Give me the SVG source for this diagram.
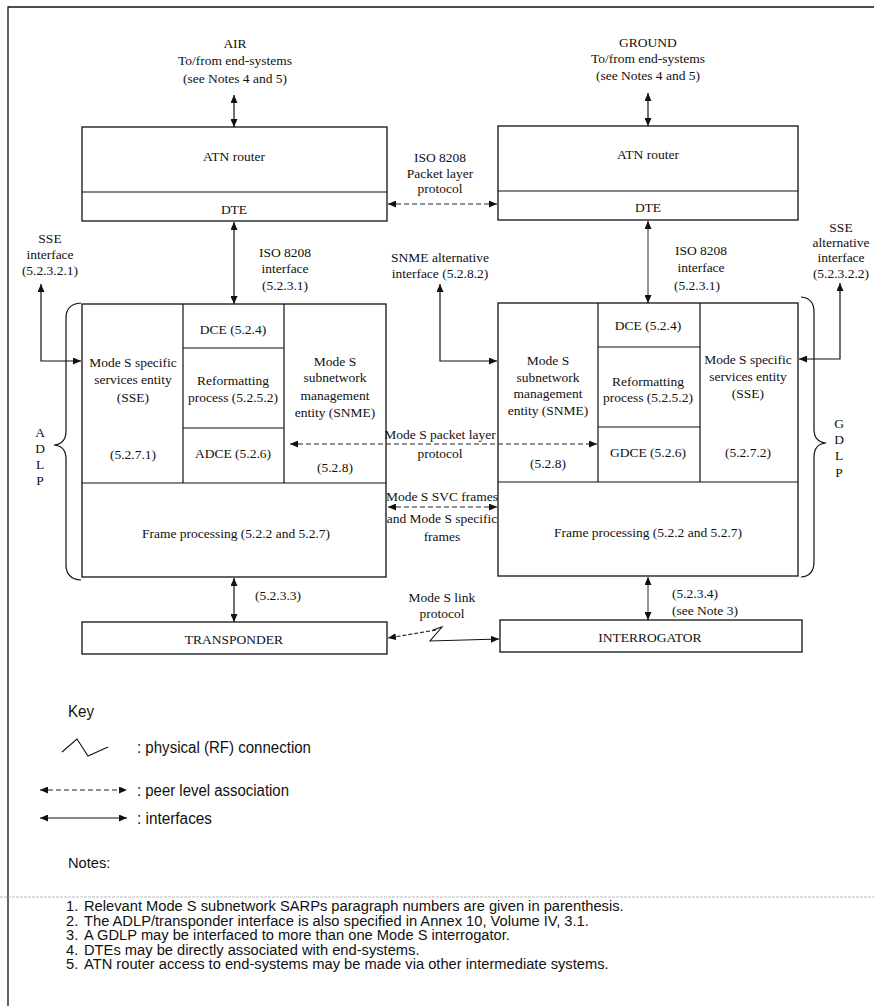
<svg xmlns="http://www.w3.org/2000/svg" width="874" height="1006" viewBox="0 0 874 1006">
<style>
.s{font-family:"Liberation Serif","Times New Roman",serif;font-size:13.5px;fill:#111;text-anchor:middle}
.sl{font-family:"Liberation Serif","Times New Roman",serif;font-size:13.5px;fill:#111}
.a{font-family:"Liberation Sans",Arial,sans-serif;font-size:16px;fill:#111}
.n{font-family:"Liberation Sans",Arial,sans-serif;font-size:14.7px;fill:#111}
.box{fill:none;stroke:#111;stroke-width:1.3}
.ln{fill:none;stroke:#111;stroke-width:1.2}
.ar{fill:none;stroke:#111;stroke-width:1.2;marker-start:url(#ah);marker-end:url(#ah)}
.da{fill:none;stroke:#222;stroke-width:1.1;stroke-dasharray:5 3;marker-start:url(#ah);marker-end:url(#ah)}
</style>
<defs>
<marker id="ah" viewBox="0 0 8 7" refX="8" refY="3.5" markerWidth="8" markerHeight="7" markerUnits="userSpaceOnUse" orient="auto-start-reverse">
<path d="M0,0 L8,3.5 L0,7 z" fill="#111"/>
</marker>
</defs>
<rect width="874" height="1006" fill="#fff"/>
<path d="M8,1006 V7 H874" class="box"/>

<g id="air-label">
<text class="s" x="235" y="48">AIR</text>
<text class="s" x="235" y="65">To/from end-systems</text>
<text class="s" x="235" y="83">(see Notes 4 and 5)</text>
</g>
<g id="ground-label">
<text class="s" x="648" y="47">GROUND</text>
<text class="s" x="648" y="63">To/from end-systems</text>
<text class="s" x="648" y="80">(see Notes 4 and 5)</text>
</g>

<g id="atn-air">
<rect class="box" x="82" y="127" width="305" height="94"/>
<line class="ln" x1="82" y1="192" x2="387" y2="192"/>
<text class="s" x="234" y="161">ATN router</text>
<text class="s" x="234" y="214">DTE</text>
</g>
<g id="atn-ground">
<rect class="box" x="498" y="126" width="300" height="94"/>
<line class="ln" x1="498" y1="191" x2="798" y2="191"/>
<text class="s" x="648" y="159">ATN router</text>
<text class="s" x="648" y="212">DTE</text>
</g>

<g id="adlp">
<rect class="box" x="82" y="304" width="304" height="273"/>
<line class="ln" x1="183" y1="304" x2="183" y2="483"/>
<line class="ln" x1="284" y1="304" x2="284" y2="483"/>
<line class="ln" x1="82" y1="483" x2="386" y2="483"/>
<line class="ln" x1="183" y1="348" x2="284" y2="348"/>
<line class="ln" x1="183" y1="428" x2="284" y2="428"/>
<text class="s" x="133" y="367">Mode S specific</text>
<text class="s" x="133" y="384">services entity</text>
<text class="s" x="133" y="402">(SSE)</text>
<text class="s" x="133" y="459">(5.2.7.1)</text>
<text class="s" x="233" y="334">DCE (5.2.4)</text>
<text class="s" x="233" y="385">Reformatting</text>
<text class="s" x="233" y="402">process (5.2.5.2)</text>
<text class="s" x="233" y="458">ADCE (5.2.6)</text>
<text class="s" x="335" y="366">Mode S</text>
<text class="s" x="335" y="382">subnetwork</text>
<text class="s" x="335" y="400">management</text>
<text class="s" x="335" y="417">entity (SNME)</text>
<text class="s" x="335" y="472">(5.2.8)</text>
<text class="s" x="236" y="538">Frame processing (5.2.2 and 5.2.7)</text>
<path class="ln" d="M81,303 Q66,304 66,318 L66,431 Q66,444 54,445 Q66,446 66,459 L66,565 Q66,579 81,580"/>
<text class="s" x="40" y="437">A</text>
<text class="s" x="40" y="453">D</text>
<text class="s" x="40" y="469">L</text>
<text class="s" x="40" y="485">P</text>
</g>

<g id="gdlp">
<rect class="box" x="498" y="303" width="300" height="273"/>
<line class="ln" x1="598" y1="303" x2="598" y2="482"/>
<line class="ln" x1="700" y1="303" x2="700" y2="482"/>
<line class="ln" x1="498" y1="482" x2="798" y2="482"/>
<line class="ln" x1="598" y1="347" x2="700" y2="347"/>
<line class="ln" x1="598" y1="427" x2="700" y2="427"/>
<text class="s" x="548" y="365">Mode S</text>
<text class="s" x="548" y="382">subnetwork</text>
<text class="s" x="548" y="398">management</text>
<text class="s" x="548" y="415">entity (SNME)</text>
<text class="s" x="548" y="468">(5.2.8)</text>
<text class="s" x="648" y="330">DCE (5.2.4)</text>
<text class="s" x="648" y="386">Reformatting</text>
<text class="s" x="648" y="402">process (5.2.5.2)</text>
<text class="s" x="648" y="457">GDCE (5.2.6)</text>
<text class="s" x="748" y="364">Mode S specific</text>
<text class="s" x="748" y="381">services entity</text>
<text class="s" x="748" y="398">(SSE)</text>
<text class="s" x="748" y="457">(5.2.7.2)</text>
<text class="s" x="648" y="537">Frame processing (5.2.2 and 5.2.7)</text>
<path class="ln" d="M801,297 Q814,298 814,312 L814,429 Q814,442 826,443 Q814,444 814,457 L814,562 Q814,576 801,577"/>
<text class="s" x="839" y="428">G</text>
<text class="s" x="839" y="444">D</text>
<text class="s" x="839" y="460">L</text>
<text class="s" x="839" y="477">P</text>
</g>

<g id="transponder">
<rect class="box" x="82" y="622" width="305" height="32"/>
<text class="s" x="234" y="644">TRANSPONDER</text>
</g>
<g id="interrogator">
<rect class="box" x="500" y="620" width="302" height="32"/>
<text class="s" x="650" y="642">INTERROGATOR</text>
</g>

<g id="labels">
<text class="s" x="440" y="162">ISO 8208</text>
<text class="s" x="440" y="178">Packet layer</text>
<text class="s" x="440" y="193">protocol</text>
<text class="s" x="50" y="243">SSE</text>
<text class="s" x="50" y="259">interface</text>
<text class="s" x="50" y="275">(5.2.3.2.1)</text>
<text class="s" x="285" y="257">ISO 8208</text>
<text class="s" x="285" y="273">interface</text>
<text class="s" x="285" y="290">(5.2.3.1)</text>
<text class="s" x="440" y="262">SNME alternative</text>
<text class="s" x="440" y="278">interface (5.2.8.2)</text>
<text class="s" x="701" y="255">ISO 8208</text>
<text class="s" x="701" y="272">interface</text>
<text class="s" x="697" y="290">(5.2.3.1)</text>
<text class="s" x="841" y="232">SSE</text>
<text class="s" x="841" y="247">alternative</text>
<text class="s" x="841" y="262">interface</text>
<text class="s" x="841" y="278">(5.2.3.2.2)</text>
<text class="s" x="440" y="439">Mode S packet layer</text>
<text class="s" x="440" y="458">protocol</text>
<text class="s" x="442" y="501">Mode S SVC frames</text>
<text class="s" x="442" y="523">and Mode S specific</text>
<text class="s" x="442" y="541">frames</text>
<text class="s" x="278" y="600">(5.2.3.3)</text>
<text class="s" x="442" y="602">Mode S link</text>
<text class="s" x="442" y="618">protocol</text>
<text class="sl" x="672" y="598">(5.2.3.4)</text>
<text class="sl" x="672" y="615">(see Note 3)</text>
</g>

<g id="connectors">
<line class="ar" x1="234" y1="95" x2="234" y2="127"/>
<line class="ar" x1="648" y1="93" x2="648" y2="126"/>
<line class="ar" x1="234" y1="222" x2="234" y2="304"/>
<line class="ar" x1="648" y1="221" x2="648" y2="303" style="stroke-width:0.9"/>
<line class="da" x1="388" y1="204" x2="497" y2="204"/>
<path class="ar" d="M41,284 V361 H81"/>
<path class="ar" d="M440,284 V361 H497"/>
<path class="ar" d="M840,283 V359 H799"/>
<line class="da" x1="290" y1="444" x2="597" y2="444"/>
<line class="da" x1="388" y1="507" x2="497" y2="507"/>
<line class="ar" x1="234" y1="578" x2="234" y2="622"/>
<line class="ar" x1="648" y1="577" x2="648" y2="620" style="stroke-width:0.9"/>
<path d="M436,630 L388,638" fill="none" stroke="#222" stroke-width="1.1" stroke-dasharray="4 2" marker-end="url(#ah)"/>
<path d="M433,630 L442,627 L430,641 L499,639" fill="none" stroke="#111" stroke-width="1.1" marker-end="url(#ah)"/>
</g>

<g id="key">
<text class="a" x="68" y="717" textLength="26" lengthAdjust="spacingAndGlyphs">Key</text>
<path d="M62,752 L77,739 L88,756 L108,747" fill="none" stroke="#111" stroke-width="1.1"/>
<text class="a" x="137" y="753" textLength="174" lengthAdjust="spacingAndGlyphs">: physical (RF) connection</text>
<line class="da" x1="40" y1="790" x2="127" y2="790"/>
<text class="a" x="137" y="796" textLength="152" lengthAdjust="spacingAndGlyphs">: peer level association</text>
<line class="ar" x1="40" y1="818" x2="127" y2="818"/>
<text class="a" x="137" y="824" textLength="75" lengthAdjust="spacingAndGlyphs">: interfaces</text>
</g>

<g id="notes">
<text class="n" x="68" y="868">Notes:</text>
<line x1="0" y1="897" x2="874" y2="897" stroke="#aaa" stroke-width="0.8" stroke-dasharray="3 1"/>
<text class="n" y="911"><tspan x="66">1.</tspan><tspan x="84">Relevant Mode S subnetwork SARPs paragraph numbers are given in parenthesis.</tspan></text>
<text class="n" y="925.5"><tspan x="66">2.</tspan><tspan x="84">The ADLP/transponder interface is also specified in Annex 10, Volume IV, 3.1.</tspan></text>
<text class="n" y="940"><tspan x="66">3.</tspan><tspan x="84">A GDLP may be interfaced to more than one Mode S interrogator.</tspan></text>
<text class="n" y="954.5"><tspan x="66">4.</tspan><tspan x="84">DTEs may be directly associated with end-systems.</tspan></text>
<text class="n" y="969"><tspan x="66">5.</tspan><tspan x="84">ATN router access to end-systems may be made via other intermediate systems.</tspan></text>
</g>
</svg>
